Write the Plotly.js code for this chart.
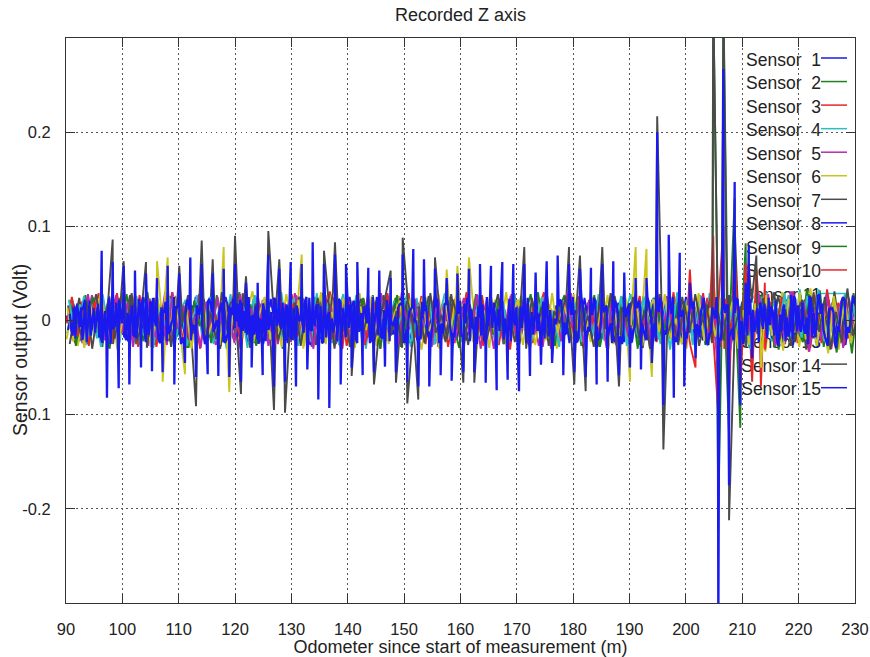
<!DOCTYPE html>
<html><head><meta charset="utf-8">
<script src="https://cdn.plot.ly/plotly-3.0.1.min.js"></script>
<style>html,body{margin:0;padding:0;background:#fff}</style>
</head><body><div id="chart" style="width:870px;height:657px"></div>
<script>
// ---------- DATA ----------
const sensorNames = ['Sensor\u20071','Sensor\u20072','Sensor\u20073','Sensor\u20074','Sensor\u20075','Sensor\u20076','Sensor\u20077','Sensor\u20078','Sensor\u20079','Sensor10','Sensor 11','Sensor 12','Sensor 13','Sensor 14','Sensor 15'];
const sensorColors = ['#1a1aee','#1f7f1f','#e8262a','#2bbcc4','#b52ab5','#c9c51c','#4a4a4a','#1a1aee','#1f7f1f','#e8262a','#2bbcc4','#b52ab5','#c9c51c','#4a4a4a','#1a1aee'];

// background noise, millivolt, one reading per metre (start offset per sensor)
const noiseStart = 90;
const noiseStep = 1;
const noisePhase = [0,0.45,0.8,0.2,0.6,0.1,0.35,0.33,0.75,0.05,0.5,0.9,0.25,0.65,0.67];
const noise1 = [5,-12,18,-20,9,-3,22,-17,11,-8,14,-22,6,19,-15,2,-24,16,-6,21,-11,8,-19,25,-4,12,-21,7,17,-13,3,-18,23,-9,15,-25,10,-2,20,-16,6,-14,24,-7,13,-20,1,18,-23,9,-5,21,-12,16,-19,4,-10,22,-15,8,17,-24,11,-3,19,-18,7,-13,25,-6,14,-21,2,20,-11,9,-17,23,-8,15,-22,5,-14,18,-4,12,-25,16,-9,21,-2,-16,24,-12,7,-20,13,-6,19,-23,10,-1,17,-15,22,-8,4,-19,14,-11,25,-5,9,-21,18,-13,3,-24,16,-7,20,-17,12,-2,23,-10,6,-18,15,-26,8,-12,27,-20,11,-4,19,-15,24,-9,13];
const noise2 = [-8,15,-22,27,-10,4,-28,19,-3,24,-17,9,-25,13,30,-14,6,-21,26,-5,18,-29,11,-2,23,-16,8,-27,20,-12,28,-7,14,-24,3,21,-19,10,-30,17,-6,25,-13,2,-22,29,-9,16,-26,7,22,-18,12,-4,27,-20,5,-15,24,-28,9,-11,19,-23,1,26,-14,17,-8,30,-21,13,-3,25,-17,6,-29,20,-10,15,-25,4,28,-12,18,-6,-22,11,27,-19,8,-27,16,-1,23,-15,10,-24,21,-9,14,-30,26,-5,19,-13,3,-20,29,-11,7,-18,24,-26,12,-2,21,-16,30,-8,17,-23,5,28,-14,9,-31,22,-4,15,-20,33,-10,26,-28,6,19,-24,12,-35,20];
const noise3 = [12,-6,20,-25,8,29,-13,3,-19,26,-10,17,-28,5,22,-15,11,-24,30,-2,15,-21,7,-30,18,-9,25,-14,4,28,-17,10,-26,21,-5,13,-29,24,-11,6,27,-19,2,-23,16,-8,31,-12,19,-27,9,-4,23,-18,14,-30,26,-7,11,-22,29,-16,5,-25,20,-1,17,-28,8,24,-13,3,-20,27,-9,15,-26,12,-31,21,-6,18,-24,10,30,-17,4,-21,25,-14,7,-29,22,-3,16,-19,28,-11,13,-25,2,26,-15,9,-23,19,-7,30,-18,11,-27,14,-4,24,-12,21,-30,6,17,-20,32,-9,25,-16,3,-28,20,-13,29,-24,10,-33,27,-11,18,-30,8,24,-19,15,-22];
const noise4 = [-14,21,-7,26,-19,10,-28,3,17,-23,29,-11,6,-26,19,-4,24,-16,12,-30,8,22,-13,27,-20,1,-25,15,-9,28,-18,11,-29,23,-6,16,-22,4,30,-14,20,-27,9,-3,25,-17,13,-24,7,28,-21,2,18,-30,14,-10,26,-15,21,-5,11,-28,24,-8,19,-26,3,29,-12,16,-23,6,-19,27,-11,22,-29,10,-2,25,-16,14,-27,20,-7,30,-13,5,-24,18,-9,26,-21,12,-30,23,-4,15,-25,8,28,-14,19,-6,24,-20,11,-31,17,-3,22,-26,9,-18,29,-10,14,-23,26,-15,5,-29,21,-8,30,-22,13,-4,27,-18,33,-12,20,-27,9,-32,24,-16,28,-21,12];
const noise5 = [9,-24,16,-3,27,-15,21,-29,6,13,-20,25,-11,2,-27,18,-8,30,-22,10,-5,23,-17,28,-12,4,-26,19,-1,24,-30,14,-9,26,-19,7,21,-25,12,-16,29,-6,17,-28,3,22,-13,25,-21,8,-29,15,-4,27,-18,11,-24,20,-10,30,-14,5,-23,18,-7,26,-20,13,-27,2,24,-16,9,-30,21,-11,16,-25,6,28,-19,12,-3,25,-28,17,-8,22,-14,29,-24,4,19,-12,27,-21,7,-26,15,-1,23,-17,11,-29,20,-9,26,-15,3,-22,30,-13,18,-6,25,-27,10,-19,24,-11,14,-32,21,-5,28,-17,8,-25,31,-14,18,-28,6,25,-22,13,-30,19,-9,27,-16];
const noise6 = [-20,13,-27,6,22,-15,29,-9,18,-31,11,-4,25,-19,8,-28,16,-2,30,-12,24,-23,5,-17,27,-10,19,-29,14,-6,21,-26,9,31,-14,3,-24,18,-11,28,-7,16,-30,22,-3,12,-25,27,-18,5,20,-13,29,-8,15,-27,10,-21,4,26,-16,23,-5,-31,17,-12,28,-20,7,-24,19,-2,25,-17,11,-29,22,-9,30,-14,6,-26,16,-4,24,-21,13,-30,20,-8,28,-15,3,-23,18,-11,27,-25,9,31,-18,14,-7,22,-28,10,-2,26,-19,15,-30,21,-12,8,-26,29,-5,17,-24,12,-10,27,-21,4,-33,19,-14,30,-6,23,-28,11,34,-17,9,-25,22,-31,16,-8,26];
const noise7 = [16,-9,24,-20,3,28,-16,10,-25,19,-6,27,-13,7,-29,21,-2,14,-22,26,-11,18,-27,5,23,-18,12,-30,8,20,-15,29,-4,17,-24,11,-28,22,-7,13,-21,25,-10,2,-26,19,-14,30,-5,16,-28,9,23,-19,6,-24,27,-12,18,-3,21,-29,14,-8,26,-17,4,-23,28,-10,15,-26,7,20,-14,29,-21,3,-18,24,-9,12,-30,22,-5,27,-16,10,-25,17,-2,23,-20,8,-28,15,-11,26,-6,19,-24,13,-29,21,-4,28,-15,7,-22,25,-12,18,-27,3,24,-19,11,-30,16,-7,29,-14,22,-26,9,-18,27,-3,20,-23,12,-31,25,-10,17,-28,31,-15,23,-20,8];
const noise8 = [-10,17,-5,22,-14,8,-23,13,-1,19,-18,6,24,-12,15,-21,3,-16,20,-7,11,-25,16,-4,21,-13,9,-20,25,-2,-17,12,-22,7,18,-10,23,-15,4,-24,14,-8,19,-26,10,-3,22,-17,6,-12,25,-19,1,16,-23,11,-6,20,-14,24,-9,13,-21,5,-18,22,-11,17,-4,-20,8,23,-15,12,-25,19,-2,14,-22,6,-13,21,-7,25,-16,9,-20,3,18,-24,11,-5,16,-19,22,-10,7,-23,13,-1,20,-17,4,-21,24,-12,15,-8,19,-25,6,-14,23,-3,17,-22,9,-16,21,-11,14,-27,18,-6,25,-19,2,-24,12,-15,27,-9,20,-28,7,22,-17,11,-26,18,-4];
const noise9 = [20,-27,11,-4,25,-18,7,-30,16,-9,28,-14,3,-22,19,-26,12,-1,24,-17,8,-29,21,-6,15,-24,27,-11,2,-20,30,-13,17,-27,5,23,-16,10,-25,18,-3,26,-21,14,-8,29,-19,6,-28,22,-12,4,24,-15,19,-30,9,-5,27,-23,13,-18,1,25,-26,16,-10,21,-3,-29,18,-7,28,-20,11,-15,23,-25,7,-12,26,-19,4,30,-16,9,-27,20,-2,14,-23,17,-9,27,-28,6,21,-13,25,-18,3,-26,15,-8,29,-21,10,-14,24,-30,19,-5,22,-17,12,-27,28,-4,16,-24,9,-19,31,-11,6,-29,20,-15,26,-8,-23,28,-13,32,-18,7,-34,21,-10,29,-15];
const noise10 = [-3,25,-16,9,-27,20,-8,14,-23,29,-12,6,-20,27,-5,18,-28,11,-15,22,-1,-26,17,-9,30,-19,13,-4,24,-21,10,-29,19,-7,26,-14,5,-25,21,-11,28,-17,8,-23,15,-2,27,-20,12,-30,23,-6,17,-26,4,21,-13,29,-10,16,-24,9,-18,26,-3,19,-28,14,-7,23,-16,30,-11,5,-27,20,-4,13,-22,28,-15,7,-25,18,-9,24,-30,12,-1,21,-19,26,-6,15,-23,10,-29,22,-12,17,-5,28,-20,8,-26,14,-2,25,-17,11,-24,19,-9,29,-14,4,-28,23,-7,16,-21,27,-13,6,-31,20,-11,25,-18,30,-6,17,-29,13,-24,33,-8,19,-27,10,22];
const noise11 = [22,-11,17,-26,5,-19,28,-8,13,-24,20,-3,26,-15,9,-29,16,-6,23,-20,12,-27,4,19,-13,25,-22,8,-30,18,-7,14,-25,27,-10,3,-21,16,-28,11,24,-16,6,-23,29,-12,19,-4,-26,15,-9,27,-20,10,-2,24,-29,17,-14,5,28,-22,13,-7,21,-25,2,18,-30,26,-11,9,-19,23,-5,15,-27,20,-13,29,-8,16,-24,4,25,-18,11,-28,22,-1,19,-23,7,-15,28,-21,13,-6,26,-27,10,-17,24,-9,3,-25,20,-12,30,-16,8,-22,27,-4,14,-28,18,-10,23,-19,12,-30,6,25,-15,21,-7,29,-24,9,-18,26,-12,33,-22,4,-27,17,-9,24,-20];
const noise12 = [-17,10,-24,28,-6,15,-21,4,27,-13,19,-28,8,-2,23,-18,12,-26,30,-9,16,-22,5,-29,20,-11,25,-15,7,-24,28,-4,13,-19,22,-27,9,-1,18,-23,26,-14,6,-30,21,-8,15,-25,11,27,-17,3,-22,19,-10,29,-16,7,-26,13,-4,23,-20,10,-28,25,-7,16,-24,2,21,-13,28,-18,9,-30,14,-5,26,-21,17,-11,3,-27,24,-15,8,-22,29,-6,12,-25,20,-2,16,-29,27,-10,5,-18,23,-14,9,-26,30,-7,19,-21,4,-28,15,-12,26,-19,6,-24,11,-31,22,-3,18,-25,29,-9,14,-27,7,-17,31,-13,21,-33,10,-20,27,-6,16,-29,24,-11,13];
const noise13 = [13,-22,6,-29,18,-11,25,-4,20,-27,9,-16,28,-7,14,-24,21,-1,-19,26,-12,17,-30,8,23,-15,3,-26,19,-9,29,-18,11,-23,6,25,-20,14,-28,4,-13,22,-27,17,-5,30,-16,9,-21,24,-2,-29,15,-10,26,-19,12,-25,7,21,-27,18,-6,24,-14,3,-30,20,-11,28,-17,8,-23,13,-4,27,-21,15,-28,10,22,-9,17,-26,5,-20,29,-13,19,-3,-24,14,-18,26,-8,21,-30,11,-15,25,-5,18,-27,8,23,-12,28,-19,2,-25,16,-9,29,-22,13,-17,24,-4,20,-30,11,-26,18,-7,27,-16,5,-32,23,-13,30,-20,9,-27,15,-35,26,-10,19,-24,6];
const noise14 = [-25,8,-15,21,-30,12,-4,26,-19,16,-10,29,-22,3,-17,24,-8,19,-28,11,-3,27,-14,20,-25,9,-20,30,-11,15,-6,23,-29,18,-13,7,26,-21,2,-16,19,-27,13,-9,24,-4,17,-30,21,-12,8,28,-18,14,-23,1,25,-16,10,-29,20,-7,15,-24,29,-13,6,-19,22,-2,-26,17,-11,25,-20,4,28,-15,9,-23,14,-30,24,-6,19,-27,10,-3,26,-17,21,-12,5,-28,18,-9,29,-22,14,-1,25,-18,11,-30,7,23,-16,2,-26,20,-13,28,-5,17,-24,10,-21,27,-8,15,-29,19,-14,24,-3,30,-20,12,-27,6,22,-18,30,-12,25,-31,9,-23,34,-16,11];
const noise15 = [7,-19,14,-23,2,18,-12,24,-6,11,-21,16,-9,25,-15,4,-24,20,-3,13,-18,22,-10,6,-25,17,-1,19,-14,23,-7,10,-22,15,-4,24,-19,8,-12,21,-16,3,25,-11,17,-23,9,-2,20,-18,12,-24,5,19,-9,22,-15,1,-21,16,-6,24,-17,10,-25,14,-3,21,-13,7,18,-22,4,-16,25,-8,12,-20,23,-5,15,-24,9,-11,20,-17,2,22,-14,6,-23,17,-7,24,-19,11,-3,16,-25,13,-10,21,-15,5,-22,19,-8,25,-12,3,17,-20,10,-24,14,-6,23,-18,8,-2,20,-26,13,-9,24,-16,6,-22,27,-11,19,-25,8,28,-17,12,-29,21,-7,26,-14];
// sensor 15 (top blue trace) also has readings at +0.25, +0.5 and +0.75 m
const noise15q1 = [-9,16,-21,4,13,-18,10,-25,19,-3,8,-15,23,-11,20,-6,14,-22,1,17,-24,11,-5,21,-16,9,-1,-23,15,-8,22,-13,5,-20,18,-10,24,-4,12,-19,16,-2,-21,9,-14,25,-7,11,-17,20,-12,3,15,-24,8,-18,22,-5,13,-23,10,-1,-20,16,-9,23,-14,6,-18,21,-3,12,-25,17,-6,19,-11,2,-22,14,-8,24,-15,7,-19,11,-4,20,-13,25,-18,6,-11,21,-2,16,-24,9,-15,18,-7,13,-21,3,19,-10,23,-17,5,-12,22,-4,15,-26,10,-19,8,-14,24,-1,-16,11,-23,18,-5,21,-12,3,-20,16,-9,26,-18,7,-22,14,-6,25,-13,19,-2];
const noise15q2 = [-16,9,-4,21,-13,6,-20,15,-8,24,-2,-17,12,-23,18,-5,11,-14,25,-10,3,-21,16,-7,20,-12,8,-24,14,-1,19,-15,6,-25,11,-3,22,-9,17,-20,7,-13,24,-6,15,-18,2,-22,13,-8,21,-11,4,-16,25,-19,9,-5,17,-23,12,-1,20,-14,6,-24,18,-10,3,-17,23,-7,15,-21,11,-2,19,-13,8,-25,16,-9,4,-19,22,-12,7,-16,24,-4,13,-20,10,-6,21,-18,1,-23,14,-8,19,-3,25,-15,9,-11,17,-22,5,-19,12,-7,24,-14,2,-20,16,-9,22,-25,6,-12,19,-3,15,-21,11,-17,26,-8,-14,23,-5,18,-27,9,-12,20,-3,16,-22];
const noise15q3 = [14,-7,20,-16,3,-24,11,-9,22,-13,5,-19,17,-2,24,-20,8,-12,15,-25,19,-4,10,-17,23,-8,13,-21,6,18,-11,25,-15,2,-22,9,-6,19,-18,13,-1,21,-10,16,-24,5,-13,23,-7,17,-20,8,-3,25,-16,11,-22,4,18,-9,14,-25,6,-12,20,-4,17,-19,9,-15,24,-10,3,-21,16,-7,22,-13,1,-18,12,-5,23,-16,8,-24,15,-2,19,-11,25,-14,6,-20,10,-7,21,-17,4,-23,13,-9,18,-3,24,-15,7,-22,11,-6,20,-18,2,-13,25,-8,16,-21,5,-10,23,-4,14,-19,9,-27,17,-6,22,-12,3,-18,26,-10,13,-24,7,-20,15,-5,21];

// periodic spikes (volt): blue sensor 15 value, plus the sensor that reaches highest
const spikeX = [96.33,97.27,98.28,99.35,100.23,101.24,102.24,103.31,104.19,105.26,
  106.15,107.15,108.04,109.22,110.10,111.11,112.06,113.07,114.08,115.14,
  116.03,117.03,117.98,118.98,119.99,121.05,121.94,122.94,124.01,124.90,
  125.90,126.90,127.85,128.86,129.87,130.81,131.82,132.82,133.77,134.77,
  135.78,136.72,137.73,138.74,139.68,140.69,141.69,142.64,143.64,144.65,
  145.59,146.60,147.61,148.55,149.74,150.56,151.62,152.51,153.52,154.46,
  155.47,156.48,157.55,158.43,159.45,160.50,161.50,162.45,163.46,164.47,
  165.41,166.42,167.42,168.37,169.37,170.38,171.32,172.33,173.33,174.28,
  175.29,176.25,177.24,178.24,179.25,180.19,181.20,182.21,183.15,184.16,
  185.16,186.11,187.11,188.12,189.06,190.07,191.08,192.02,193.00,193.95,
  194.90,196.00,196.95,197.85,198.90,199.70,200.70,201.70];
const spikeBlue = [0.074,-0.082,0.062,-0.072,0.058,-0.068,0.053,-0.050,0.050,-0.054,
  0.045,-0.055,0.058,-0.068,0.050,-0.045,0.067,-0.060,0.060,-0.057,
  0.050,-0.059,0.055,-0.060,0.060,-0.065,0.040,-0.050,0.040,-0.058,
  0.070,-0.070,0.055,-0.065,0.062,-0.070,0.060,-0.052,0.083,-0.084,
  0.060,-0.093,0.070,-0.068,0.060,-0.050,0.062,-0.058,0.056,-0.055,
  0.053,-0.049,0.045,-0.055,0.070,-0.065,0.076,-0.070,0.065,-0.070,
  0.055,-0.058,0.045,-0.064,0.050,-0.055,0.055,-0.055,0.060,-0.066,
  0.058,-0.074,0.062,-0.063,0.060,-0.075,0.060,-0.059,0.051,-0.047,
  0.063,-0.045,0.069,-0.058,0.060,-0.055,0.055,-0.060,0.056,-0.068,
  0.060,-0.065,0.063,-0.058,0.051,-0.050,0.045,-0.052,0.045,-0.045,
  0.200,-0.090,0.091,-0.082,0.072,-0.070,0.040,-0.040];
const spikeTop = [0,0,0.086,0,0.063,0,0,0,0.062,0,
  0.063,-0.065,0.067,0,0.058,-0.057,0,-0.091,0.085,0,
  0.065,0,0.078,-0.076,0.090,-0.078,0.047,0,0,0,
  0.095,-0.095,0.065,-0.098,0,0,0.070,0,0,0,
  0.074,0,0.083,0,0,-0.059,0,0,0,-0.068,
  0,0,0.053,-0.066,0.088,-0.088,0,-0.084,0,0,
  0.067,0,0.054,0,0.058,-0.066,0.067,-0.066,0,0,
  0,0,0,0,0,0,0.078,0,0,0,
  0,0,0,0,0.078,-0.068,0.069,-0.075,0,0,
  0.078,0,0,-0.070,0,-0.065,0.078,0,0.076,-0.060,
  0.217,-0.137,0,0,0,0,0.054,-0.050];
const spikeTopSensor = [0,0,7,0,14,0,0,0,7,0,
  6,6,13,0,14,13,0,7,14,0,
  7,0,6,13,14,7,14,0,0,0,
  14,7,7,14,0,0,6,0,0,0,
  14,0,7,0,0,14,0,0,0,7,
  0,0,14,7,14,7,0,14,0,0,
  7,0,6,0,13,14,6,7,0,0,
  0,0,0,0,0,0,14,0,0,0,
  0,0,0,0,7,14,14,7,0,0,
  14,0,0,14,0,6,13,0,6,6,
  14,14,0,0,0,0,10,3];

// large disturbance near 205-214 m: position, sensor, value (volt)
const eventX = [204.85,204.85,204.85,204.85,205.75,205.75,205.75,205.75,206.65,206.65,206.65,206.65,
  207.65,207.65,207.65,207.65,208.65,208.65,208.65,208.65,209.65,209.65,209.65,210.60,210.60,210.60,
  211.15,211.15,211.75,211.75,212.50,212.50,213.30,213.30,214.00];
const eventSensor = [14,9,10,5,15,2,3,12,15,7,2,3,
  14,15,10,9,15,9,10,7,9,15,10,9,10,15,
  15,14,10,15,14,10,10,13,10];
const eventValue = [0.34,0.34,0.09,0.05,-0.34,-0.20,-0.10,-0.06,0.267,0.34,0.34,0.10,
  -0.212,-0.175,-0.08,-0.12,0.147,0.13,0.07,0.10,-0.114,-0.09,-0.07,0.082,0.06,0.04,
  0.08,0.06,-0.065,-0.04,0.069,0.055,-0.07,-0.05,0.04];

const xTickVals = [90,100,110,120,130,140,150,160,170,180,190,200,210,220,230];
const yTickVals = [-0.2,-0.1,0,0.1,0.2];
const yTickText = ['-0.2','-0.1','0','0.1','0.2'];

// ---------- BUILD ----------
const noiseMilliVolt = [noise1,noise2,noise3,noise4,noise5,noise6,noise7,noise8,noise9,noise10,noise11,noise12,noise13,noise14,noise15];
const extraReadings = [[0.25, noise15q1], [0.5, noise15q2], [0.75, noise15q3]]; // all belong to sensor 15
const FONT = '"Liberation Sans", Arial, Helvetica, sans-serif';
const traces = [];
for (let s = 0; s < 15; s++) {
  const base = noiseStart + noisePhase[s];
  const pts = noiseMilliVolt[s].map((v, i) => [base + i * noiseStep, v / 1000]);
  if (s === 14) {
    extraReadings.forEach(([off, arr]) => arr.forEach((v, i) => pts.push([base + (i + off) * noiseStep, v / 1000])));
    spikeX.forEach((x, j) => pts.push([x, spikeBlue[j]]));
  }
  spikeX.forEach((x, j) => { if (spikeTopSensor[j] === s + 1) pts.push([x, spikeTop[j]]); });
  eventX.forEach((x, j) => { if (eventSensor[j] === s + 1) pts.push([x, eventValue[j]]); });
  pts.sort((a, b) => a[0] - b[0]);
  traces.push({
    type: 'scatter', mode: 'lines', name: sensorNames[s],
    x: pts.map(p => p[0]), y: pts.map(p => p[1]),
    line: {color: sensorColors[s], width: s === 14 ? 2.3 : 1.9},
    hoverinfo: 'skip', showlegend: false
  });
}

// legend drawn beneath the data (as in the original)
const plotTop = 38, plotH = 565, plotL = 66, plotW = 789;
const legendShapes = sensorNames.map((name, k) => {
  const ypx = 58 + k * 23.55;
  const yp = 1 - (ypx - plotTop) / plotH;
  return {
    type: 'line', xref: 'paper', yref: 'paper', layer: 'below',
    x0: (821 - plotL) / plotW, x1: (847 - plotL) / plotW, y0: yp, y1: yp,
    line: {color: sensorColors[k], width: 1.5},
    label: {text: name, textposition: 'start', xanchor: 'right', yanchor: 'middle', padding: 4,
            font: {family: FONT, size: 17.5, color: '#222'}}
  };
});

const axisCommon = {
  ticks: 'inside', ticklen: 9, tickwidth: 1, tickcolor: '#333',
  showline: true, linecolor: '#333', linewidth: 1, mirror: 'ticks',
  showgrid: true, gridcolor: '#555', gridwidth: 1, griddash: '1.5px,3.5px',
  zeroline: false, tickfont: {family: FONT, size: 16.5, color: '#222'}
};

const layout = {
  width: 870, height: 657,
  margin: {l: 66, r: 15, t: 38, b: 54, pad: 0},
  paper_bgcolor: '#fff', plot_bgcolor: '#fff',
  font: {family: FONT, size: 16, color: '#222'},
  showlegend: false,
  title: {text: 'Recorded Z axis', font: {family: FONT, size: 18, color: '#222'},
          x: 0.5, xref: 'paper', xanchor: 'center', y: 1 - 15 / 657, yref: 'container', yanchor: 'middle'},
  xaxis: Object.assign({}, axisCommon, {
    range: [90, 230], tickvals: xTickVals, ticklabelstandoff: 11,
    title: {text: 'Odometer since start of measurement (m)', font: {family: FONT, size: 18, color: '#222'}, standoff: 3}
  }),
  yaxis: Object.assign({}, axisCommon, {
    range: [-0.3, 0.3], tickvals: yTickVals, ticktext: yTickText, ticklabelstandoff: 11
  }),
  annotations: [{
    text: 'Sensor output (Volt)', textangle: -90, showarrow: false,
    xref: 'paper', yref: 'paper', x: (20 - plotL) / plotW, y: 1 - (350 - plotTop) / plotH,
    xanchor: 'center', yanchor: 'middle', font: {family: FONT, size: 19.5, color: '#222'}
  }],
  shapes: legendShapes
};

Plotly.newPlot('chart', traces, layout, {staticPlot: true, displayModeBar: false});
</script>
</body></html>
